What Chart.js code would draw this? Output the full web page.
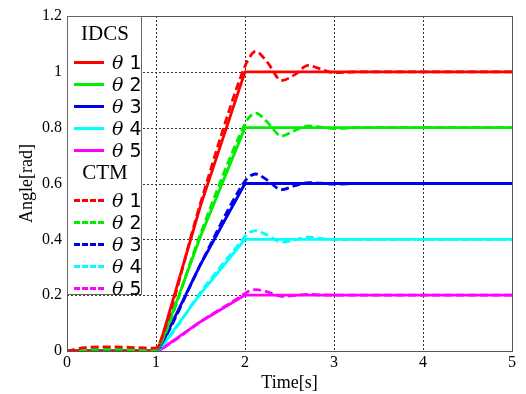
<!DOCTYPE html>
<html>
<head>
<meta charset="utf-8">
<script src="https://cdn.jsdelivr.net/npm/chart.js@4"></script>
<style>
  html, body { margin: 0; padding: 0; background: #fff; }
  #wrap { position: relative; width: 526px; height: 394px; }
  #legend {
    position: absolute; left: 67px; top: 16px; width: 75px; height: 279px;
    background: #fff; border: 1px solid #666; box-sizing: border-box;
    font-family: 'Liberation Serif', serif; color: #000;
  }
  .ttl { position: absolute; left: 0; width: 74px; text-align: center; font-size: 21px; }
  .row { position: absolute; left: 6px; height: 20px; }
  .smp { position: absolute; left: 0; top: 9px; width: 30px; height: 0; }
  .lab { position: absolute; left: 38px; top: -1px; font-size: 19px; white-space: nowrap; font-family: 'DejaVu Sans', sans-serif; }
  .lab i { font-family: 'DejaVu Serif', serif; }
</style>
</head>
<body>
<div id="wrap">
  <canvas id="chart" width="526" height="394"></canvas>
  <div id="legend"></div>
</div>
<script>
'use strict';

// ─── DATA ────────────────────────────────────────────────────

const COLORS = ['#ff0000', '#00ee00', '#0000ee', '#00ffff', '#ff00ff'];
const LABELS = ['θ 1', 'θ 2', 'θ 3', 'θ 4', 'θ 5'];

// IDCS (solid)
const idcsTime = [0, 1, 1.05, 1.5, 2, 5];
const idcs1 = [0, 0, 0.03, 0.52, 1.0, 1.0];
const idcs2 = [0, 0, 0.02, 0.41, 0.8, 0.8];
const idcs3 = [0, 0, 0.015, 0.31, 0.6, 0.6];
const idcs4 = [0, 0, 0.01, 0.205, 0.4, 0.4];
const idcs5 = [0, 0, 0.005, 0.105, 0.2, 0.2];

// CTM (dashed)
const ctmTime = [0, 0.2, 0.5, 0.8, 1.0, 1.05, 1.5, 1.95, 2.03, 2.12, 2.25, 2.41, 2.56, 2.71, 2.85, 3.0, 3.3, 5];
const ctm1 = [0, 0.012, 0.015, 0.012, 0.01, 0.035, 0.53, 0.98, 1.04, 1.073, 1.035, 0.969, 0.99, 1.023, 1.01, 0.997, 1.0, 1.0];
const ctm2 = [0, 0.005, 0.006, 0.005, 0.005, 0.025, 0.42, 0.78, 0.83, 0.852, 0.82, 0.77, 0.79, 0.806, 0.802, 0.797, 0.8, 0.8];
const ctm3 = [0, 0.003, 0.004, 0.003, 0.003, 0.02, 0.31, 0.585, 0.62, 0.634, 0.612, 0.578, 0.592, 0.603, 0.601, 0.598, 0.6, 0.6];
const ctm4 = [0, 0.002, 0.002, 0.002, 0.002, 0.012, 0.21, 0.39, 0.42, 0.431, 0.415, 0.39, 0.398, 0.408, 0.403, 0.399, 0.4, 0.4];
const ctm5 = [0, 0.001, 0.001, 0.001, 0.001, 0.006, 0.105, 0.195, 0.212, 0.22, 0.212, 0.196, 0.199, 0.203, 0.201, 0.2, 0.2, 0.2];

const idcsSeries = [idcs1, idcs2, idcs3, idcs4, idcs5];
const ctmSeries = [ctm1, ctm2, ctm3, ctm4, ctm5];

const xTicks = [0, 1, 2, 3, 4, 5];
const yTicks = [0, 0.2, 0.4, 0.6, 0.8, 1, 1.2];

// ─── DATASETS ────────────────────────────────────────────────

const toPts = (t, v) => t.map((x, i) => ({ x, y: v[i] }));

const datasets = [];
ctmSeries.forEach((s, i) => datasets.push({
  label: 'CTM ' + LABELS[i],
  data: toPts(ctmTime, s),
  borderColor: COLORS[i],
  borderWidth: 2.8,
  borderDash: [8, 4],
  pointRadius: 0,
  cubicInterpolationMode: 'monotone',
  fill: false,
}));
idcsSeries.forEach((s, i) => datasets.push({
  label: 'IDCS ' + LABELS[i],
  data: toPts(idcsTime, s),
  borderColor: COLORS[i],
  borderWidth: 2.8,
  pointRadius: 0,
  tension: 0,
  fill: false,
}));

// ─── GRID + FRAME PLUGIN ─────────────────────────────────────

const framePlugin = {
  id: 'frame',
  beforeDatasetsDraw(chart) {
    const { ctx, chartArea: a, scales } = chart;
    ctx.save();
    ctx.strokeStyle = '#333';
    ctx.lineWidth = 1;
    ctx.setLineDash([2, 2]);
    xTicks.slice(1, -1).forEach(v => {
      const px = Math.round(scales.x.getPixelForValue(v)) + 0.5;
      ctx.beginPath(); ctx.moveTo(px, a.top); ctx.lineTo(px, a.bottom); ctx.stroke();
    });
    yTicks.slice(1, -1).forEach(v => {
      const py = Math.round(scales.y.getPixelForValue(v)) + 0.5;
      ctx.beginPath(); ctx.moveTo(a.left, py); ctx.lineTo(a.right, py); ctx.stroke();
    });
    ctx.restore();
  },
  afterDraw(chart) {
    const { ctx, chartArea: a } = chart;
    ctx.save();
    ctx.strokeStyle = '#555';
    ctx.lineWidth = 1;
    ctx.strokeRect(a.left + 0.5, a.top + 0.5, a.right - a.left, a.bottom - a.top);
    ctx.restore();
  }
};

const serif = "'Liberation Serif', serif";

new Chart(document.getElementById('chart'), {
  type: 'line',
  data: { datasets },
  plugins: [framePlugin],
  options: {
    responsive: false,
    animation: false,
    layout: { padding: { top: 16, right: 14, left: 0, bottom: 0 } },
    plugins: { legend: { display: false }, tooltip: { enabled: false } },
    scales: {
      x: {
        type: 'linear', min: 0, max: 5,
        afterBuildTicks: s => { s.ticks = xTicks.map(v => ({ value: v })); },
        afterFit: s => { s.height = 43; },
        grid: { display: false, drawTicks: false, tickLength: 0 },
        border: { display: false },
        ticks: { color: '#000', font: { family: serif, size: 16 }, padding: 2, callback: v => String(v) },
        title: { display: true, text: 'Time[s]', color: '#000', font: { family: serif, size: 18 }, padding: { top: -3, bottom: 0 } }
      },
      y: {
        type: 'linear', min: 0, max: 1.2,
        afterBuildTicks: s => { s.ticks = yTicks.map(v => ({ value: v })); },
        afterFit: s => { s.width = 67; },
        grid: { display: false, drawTicks: false, tickLength: 0 },
        border: { display: false },
        ticks: { color: '#000', font: { family: serif, size: 16 }, padding: 5, callback: v => String(v) },
        title: { display: true, text: 'Angle[rad]', color: '#000', font: { family: serif, size: 18 }, padding: { top: 16, bottom: 0 } }
      }
    }
  }
});

// ─── LEGEND ──────────────────────────────────────────────────

const legend = document.getElementById('legend');
function addTitle(text, top) {
  const d = document.createElement('div');
  d.className = 'ttl'; d.style.top = top + 'px'; d.textContent = text;
  legend.appendChild(d);
}
function addRow(i, top, dashed) {
  const r = document.createElement('div');
  r.className = 'row'; r.style.top = top + 'px';
  const s = document.createElement('div');
  s.className = 'smp';
  s.style.borderTop = '3px ' + (dashed ? 'dashed ' : 'solid ') + COLORS[i];
  const l = document.createElement('div');
  l.className = 'lab';
  l.innerHTML = '<i>θ</i>' + LABELS[i].slice(1);
  r.appendChild(s); r.appendChild(l);
  legend.appendChild(r);
}
addTitle('IDCS', 4);
[0, 1, 2, 3, 4].forEach(i => addRow(i, 35 + i * 22, false));
addTitle('CTM', 143);
[0, 1, 2, 3, 4].forEach(i => addRow(i, 173 + i * 22, true));
</script>
</body>
</html>
